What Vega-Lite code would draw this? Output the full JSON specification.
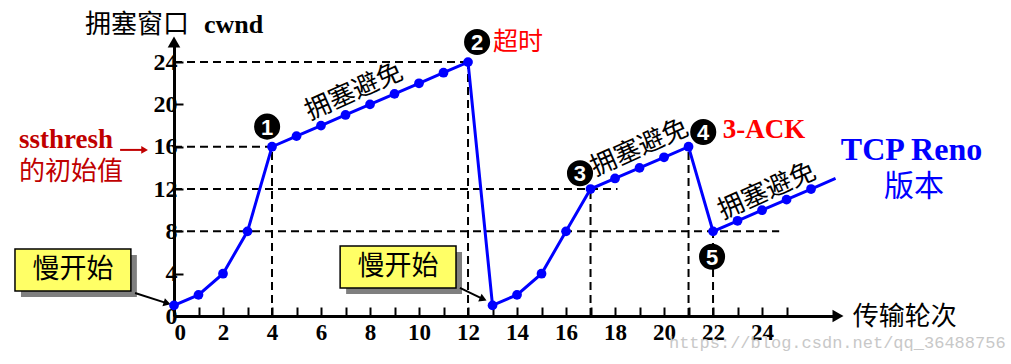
{
  "$schema": "https://vega.github.io/schema/vega-lite/v6.json",
  "autosize": "none",
  "width": 664,
  "height": 274,
  "padding": {"left": 174, "top": 42, "right": 173, "bottom": 48},
  "background": "white",
  "config": {"view": {"stroke": null}, "axis": {"grid": false}},
  "encoding": {
    "x": {
      "field": "x", "type": "quantitative",
      "scale": {"domain": [0, 27.1], "nice": false, "zero": false},
      "axis": {
        "values": [0,1,2,3,4,5,6,7,8,9,10,11,12,13,14,15,16,17,18,19,20,21,22,23,24,25],
        "labelExpr": "datum.value % 2 == 0 && datum.value <= 24 ? datum.label : ''",
        "domainColor": "black", "domainWidth": 3,
        "tickColor": "black", "tickWidth": 2, "tickSize": -9,
        "labelFont": "Liberation Serif", "labelFontWeight": "bold", "labelFontSize": 23,
        "labelColor": "black", "labelPadding": 14, "labelOverlap": false, "labelFlush": true,
        "title": null
      }
    },
    "y": {
      "field": "y", "type": "quantitative",
      "scale": {"domain": [0, 25.9], "nice": false, "zero": false},
      "axis": {
        "values": [0,4,8,12,16,20,24],
        "domainColor": "black", "domainWidth": 3,
        "tickColor": "black", "tickWidth": 2, "tickSize": -9,
        "labelFont": "Liberation Serif", "labelFontWeight": "bold", "labelFontSize": 24,
        "labelColor": "black", "labelPadding": 6, "labelOverlap": false, "labelFlush": false,
        "title": null
      }
    }
  },
  "layer": [
    {
      "data": {"values": [
        {"x": 0, "y": 24, "x2": 12, "y2": 24},
        {"x": 0, "y": 16, "x2": 4, "y2": 16},
        {"x": 0, "y": 12, "x2": 18.1, "y2": 12},
        {"x": 0, "y": 8, "x2": 24.7, "y2": 8},
        {"x": 4, "y": 0, "x2": 4, "y2": 16},
        {"x": 12, "y": 0, "x2": 12, "y2": 24},
        {"x": 17, "y": 0, "x2": 17, "y2": 12},
        {"x": 21, "y": 0, "x2": 21, "y2": 16},
        {"x": 22, "y": 0, "x2": 22, "y2": 8}
      ]},
      "mark": {"type": "rule", "color": "black", "strokeWidth": 2, "strokeDash": [8, 5]},
      "encoding": {"x2": {"field": "x2"}, "y2": {"field": "y2"}}
    },
    {
      "data": {"values": [{"x": 27.1, "y": 0}]},
      "mark": {"type": "point", "shape": "triangle-right", "filled": true, "color": "black", "size": 160, "opacity": 1}
    },
    {
      "data": {"values": [{"x": 0, "y": 25.9}]},
      "mark": {"type": "point", "shape": "triangle-up", "filled": true, "color": "black", "size": 160, "opacity": 1}
    },
    {
      "data": {"values": [
        {"x": -6.49, "y": 6.33, "x2": -1.76, "y2": 2.36},
        {"x": 6.78, "y": 6.62, "x2": 11.51, "y2": 2.65}
      ]},
      "mark": {"type": "rect", "fill": "#7f7f7f", "xOffset": 6, "x2Offset": 6, "yOffset": 6, "y2Offset": 6},
      "encoding": {"x2": {"field": "x2"}, "y2": {"field": "y2"}}
    },
    {
      "data": {"values": [
        {"x": -6.49, "y": 6.33, "x2": -1.76, "y2": 2.36},
        {"x": 6.78, "y": 6.62, "x2": 11.51, "y2": 2.65}
      ]},
      "mark": {"type": "rect", "fill": "#FFFF66", "stroke": "black", "strokeWidth": 1.5},
      "encoding": {"x2": {"field": "x2"}, "y2": {"field": "y2"}}
    },
    {
      "data": {"values": [
        {"x": -4.12, "y": 4.35, "label": "慢开始"},
        {"x": 9.14, "y": 4.63, "label": "慢开始"}
      ]},
      "mark": {"type": "text", "font": "Noto Sans CJK SC", "fontSize": 27, "color": "black", "align": "center", "baseline": "middle"},
      "encoding": {"text": {"field": "label"}}
    },
    {
      "data": {"values": [
        {"x": -1.59, "y": 2.17, "x2": -0.3, "y2": 1.22},
        {"x": 11.67, "y": 2.65, "x2": 12.62, "y2": 1.6}
      ]},
      "mark": {"type": "rule", "color": "black", "strokeWidth": 2},
      "encoding": {"x2": {"field": "x2"}, "y2": {"field": "y2"}}
    },
    {
      "data": {"values": [{"x": -0.28, "y": 1.2}]},
      "mark": {"type": "point", "shape": "triangle-right", "filled": true, "color": "black", "size": 70, "angle": 17, "opacity": 1}
    },
    {
      "data": {"values": [{"x": 12.62, "y": 1.6}]},
      "mark": {"type": "point", "shape": "triangle-right", "filled": true, "color": "black", "size": 70, "angle": 24, "opacity": 1}
    },
    {
      "data": {"values": [{"x": -2.2, "y": 15.7, "x2": -1.3, "y2": 15.7}]},
      "mark": {"type": "rule", "color": "#C00000", "strokeWidth": 2},
      "encoding": {"x2": {"field": "x2"}, "y2": {"field": "y2"}}
    },
    {
      "data": {"values": [{"x": -1.2, "y": 15.7}]},
      "mark": {"type": "point", "shape": "triangle-right", "filled": true, "color": "#C00000", "size": 60, "opacity": 1}
    },
    {
      "data": {"values": [
        {"x": 0, "y": 1}, {"x": 1, "y": 2}, {"x": 2, "y": 4}, {"x": 3, "y": 8},
        {"x": 4, "y": 16}, {"x": 5, "y": 17}, {"x": 6, "y": 18}, {"x": 7, "y": 19},
        {"x": 8, "y": 20}, {"x": 9, "y": 21}, {"x": 10, "y": 22}, {"x": 11, "y": 23},
        {"x": 12, "y": 24}, {"x": 13, "y": 1}, {"x": 14, "y": 2}, {"x": 15, "y": 4},
        {"x": 16, "y": 8}, {"x": 17, "y": 12}, {"x": 18, "y": 13}, {"x": 19, "y": 14},
        {"x": 20, "y": 15}, {"x": 21, "y": 16}, {"x": 22, "y": 8}, {"x": 23, "y": 9},
        {"x": 24, "y": 10}, {"x": 25, "y": 11}, {"x": 26, "y": 12}, {"x": 27, "y": 13}
      ]},
      "layer": [
        {"mark": {"type": "line", "color": "#0000FF", "strokeWidth": 3}},
        {
          "transform": [{"filter": "datum.x <= 26"}],
          "mark": {"type": "point", "filled": true, "color": "#0000FF", "size": 95, "opacity": 1}
        }
      ]
    },
    {
      "data": {"values": [
        {"x": 3.8, "y": 17.9, "n": "1"},
        {"x": 12.37, "y": 25.9, "n": "2"},
        {"x": 16.57, "y": 13.5, "n": "3"},
        {"x": 21.6, "y": 17.4, "n": "4"},
        {"x": 21.96, "y": 5.6, "n": "5"}
      ]},
      "layer": [
        {"mark": {"type": "point", "shape": "circle", "filled": true, "color": "black", "size": 680, "opacity": 1}},
        {
          "mark": {"type": "text", "font": "Liberation Sans", "fontWeight": "bold", "fontSize": 22, "color": "white", "align": "center", "baseline": "middle", "dy": 1},
          "encoding": {"text": {"field": "n"}}
        }
      ]
    },
    {
      "data": {"values": [
        {"x": 7.35, "y": 21.2, "label": "拥塞避免"},
        {"x": 19.0, "y": 15.9, "label": "拥塞避免"},
        {"x": 24.2, "y": 11.8, "label": "拥塞避免"}
      ]},
      "mark": {"type": "text", "font": "Noto Sans CJK SC", "fontSize": 26, "color": "black", "align": "center", "baseline": "middle", "angle": -24},
      "encoding": {"text": {"field": "label"}}
    },
    {
      "data": {"values": [{"x": -3.63, "y": 27.5, "label": "拥塞窗口"}]},
      "mark": {"type": "text", "font": "Noto Sans CJK SC", "fontSize": 26, "color": "black", "align": "left", "baseline": "middle"},
      "encoding": {"text": {"field": "label"}}
    },
    {
      "data": {"values": [{"x": 1.22, "y": 27.5, "label": "cwnd"}]},
      "mark": {"type": "text", "font": "Liberation Serif", "fontWeight": "bold", "fontSize": 26, "color": "black", "align": "left", "baseline": "middle"},
      "encoding": {"text": {"field": "label"}}
    },
    {
      "data": {"values": [{"x": -6.33, "y": 16.6, "label": "ssthresh"}]},
      "mark": {"type": "text", "font": "Liberation Serif", "fontWeight": "bold", "fontSize": 27, "color": "#C00000", "align": "left", "baseline": "middle"},
      "encoding": {"text": {"field": "label"}}
    },
    {
      "data": {"values": [{"x": -6.33, "y": 13.6, "label": "的初始值"}]},
      "mark": {"type": "text", "font": "Noto Sans CJK SC", "fontSize": 26, "color": "#C00000", "align": "left", "baseline": "middle"},
      "encoding": {"text": {"field": "label"}}
    },
    {
      "data": {"values": [{"x": 13.02, "y": 25.9, "label": "超时"}]},
      "mark": {"type": "text", "font": "Noto Sans CJK SC", "fontSize": 25, "color": "#FF0000", "align": "left", "baseline": "middle"},
      "encoding": {"text": {"field": "label"}}
    },
    {
      "data": {"values": [{"x": 22.4, "y": 17.6, "label": "3-ACK"}]},
      "mark": {"type": "text", "font": "Liberation Serif", "fontWeight": "bold", "fontSize": 27, "color": "#FF0000", "align": "left", "baseline": "middle"},
      "encoding": {"text": {"field": "label"}}
    },
    {
      "data": {"values": [{"x": 30.1, "y": 15.7, "label": "TCP Reno"}]},
      "mark": {"type": "text", "font": "Liberation Serif", "fontWeight": "bold", "fontSize": 32, "color": "#0000FF", "align": "center", "baseline": "middle"},
      "encoding": {"text": {"field": "label"}}
    },
    {
      "data": {"values": [{"x": 30.2, "y": 12.2, "label": "版本"}]},
      "mark": {"type": "text", "font": "Noto Sans CJK SC", "fontSize": 30, "color": "#0000FF", "align": "center", "baseline": "middle"},
      "encoding": {"text": {"field": "label"}}
    },
    {
      "data": {"values": [{"x": 27.7, "y": -0.1, "label": "传输轮次"}]},
      "mark": {"type": "text", "font": "Noto Sans CJK SC", "fontSize": 26, "color": "black", "align": "left", "baseline": "middle"},
      "encoding": {"text": {"field": "label"}}
    },
    {
      "data": {"values": [{"x": 20.2, "y": -2.55, "label": "https://blog.csdn.net/qq_36488756"}]},
      "mark": {"type": "text", "font": "Liberation Mono", "fontSize": 17, "color": "#C8C8C8", "align": "left", "baseline": "middle"},
      "encoding": {"text": {"field": "label"}}
    }
  ]
}
